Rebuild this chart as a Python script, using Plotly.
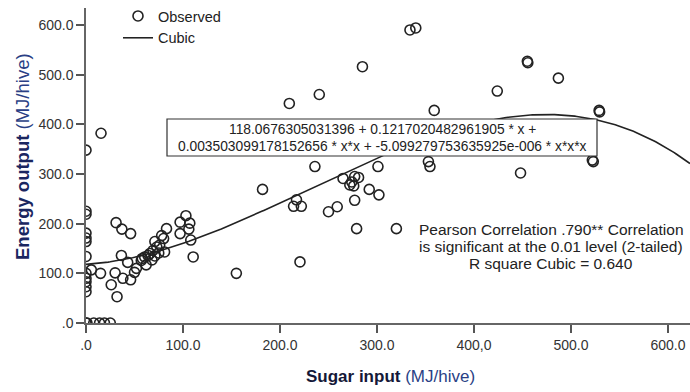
import numpy as np
import plotly.graph_objects as go

# Observed data (Sugar input, Energy output) in MJ/hive
sugar_input = [
    0, 0, 0, 0, 0, 0, 0, 0, 0, 0, 0, 0,
    0, 1, 8, 14, 19, 25,
    5.5, 15, 15.5, 26, 31, 37, 46, 30, 32, 38, 36.5, 43, 46, 50, 52, 57, 60.5, 62,
    64, 68, 71, 71, 73, 75, 76, 80, 81, 83, 58, 66, 69, 78,
    97, 97, 103, 107, 106, 108, 110.5, 155,
    182, 209.6, 240.5, 236, 217, 214, 222, 250, 259, 265, 277, 281, 274, 272, 276,
    277, 279, 292, 302, 301, 285, 220.6, 320, 334, 340, 353, 354.6, 359, 424, 448,
    455, 455.5, 487, 523, 522, 529, 529.5,
]
energy_output = [
    348, 225, 219, 181, 171, 164, 134, 100, 90, 83, 73, 63,
    0, 0, 0, 0, 0, 0,
    107, 100, 382, 77, 202, 189, 180, 101, 53, 90, 136, 122, 87, 102, 110, 126, 133, 117,
    136, 127, 135, 164, 153, 141, 157, 170, 143, 190, 130, 140, 146, 176,
    203, 180, 216, 201, 189, 167, 133, 100,
    269, 442, 460, 315, 248, 235, 235, 224, 234, 291, 295, 293, 284, 278, 276,
    247, 190, 269, 258, 315, 516, 123, 190, 590, 594, 325, 315, 428, 467, 302,
    527, 524, 493, 325, 328, 428, 425,
]

# Cubic fit coefficients as printed on the chart (b0, b1, b2, b3)
cubic_coef = [118.0676305031396, 0.1217020482961905, 0.003503099178152656, -5.099279753635925e-006]

x_ticks = [0, 100, 200, 300, 400, 500, 600]
x_ticktext = [".0", "100.0", "200.0", "300.0", "400,0", "500.0", "600.0"]
y_ticks = [0, 100, 200, 300, 400, 500, 600]
y_ticktext = [".0", "100.0", "200.0", "300.0", "400.0", "500.0", "600.0"]

X_MAX = 622.7
Y_MAX = 634.2

xc = np.linspace(0, X_MAX, 300)
yc = cubic_coef[0] + cubic_coef[1] * xc + cubic_coef[2] * xc**2 + cubic_coef[3] * xc**3

FONT = "Liberation Sans, Arial, sans-serif"
INK = "#222222"

fig = go.Figure()
fig.add_trace(go.Scatter(
    x=sugar_input, y=energy_output, mode="markers", name="Observed",
    marker=dict(symbol="circle-open", size=10, color=INK, line=dict(width=1.6, color=INK)),
))
fig.add_trace(go.Scatter(
    x=xc, y=yc, mode="lines", name="Cubic", line=dict(color=INK, width=1.6),
))

L, R, T, B = 86, 0, 8, 69
W, H = 690, 392
pw, ph = W - L - R, H - T - B

def px(xp):
    return (xp - L) / pw

def py(yp):
    return (H - B - yp) / ph

fig.add_shape(type="rect", xref="paper", yref="paper",
              x0=px(167), x1=px(597), y0=py(156), y1=py(119),
              fillcolor="white", line=dict(color="#333333", width=1.2), layer="above")

ann = []
eq_lines = [
    ("118.0676305031396 + 0.1217020482961905 * x +", 129),
    ("0.003503099178152656 * x*x + -5.099279753635925e-006 * x*x*x", 146.5),
]
for txt, yy in eq_lines:
    ann.append(dict(text=txt, x=px(382), y=py(yy), xref="paper", yref="paper",
                    xanchor="center", yanchor="middle", showarrow=False,
                    font=dict(family=FONT, size=13.8, color=INK)))
pear_lines = [
    ("Pearson Correlation .790** Correlation", 230),
    ("is significant at the 0.01 level (2-tailed)", 246.5),
    ("R square Cubic = 0.640", 263),
]
for txt, yy in pear_lines:
    ann.append(dict(text=txt, x=px(551), y=py(yy), xref="paper", yref="paper",
                    xanchor="center", yanchor="middle", showarrow=False,
                    font=dict(family=FONT, size=15.5, color=INK)))

ann.append(dict(
    text="<span style='color:#1a2660'><b>Energy output</b></span> <span style='color:#2a3f85'>(MJ/hive)</span>",
    x=px(22), y=py(157), xref="paper", yref="paper", xanchor="center", yanchor="middle",
    textangle=-90, showarrow=False, font=dict(family=FONT, size=18.5)))
ann.append(dict(
    text="<span style='color:#141838'><b>Sugar input</b></span> <span style='color:#2a3f85'>(MJ/hive)</span>",
    x=px(390), y=py(376), xref="paper", yref="paper", xanchor="center", yanchor="middle",
    showarrow=False, font=dict(family=FONT, size=17)))

fig.update_layout(
    width=W, height=H, margin=dict(l=L, r=R, t=T, b=B),
    paper_bgcolor="white", plot_bgcolor="white",
    font=dict(family=FONT, size=14, color="#333333"),
    annotations=ann,
    showlegend=True,
    legend=dict(x=px(118), y=py(0), xanchor="left", yanchor="top",
                bgcolor="rgba(0,0,0,0)", font=dict(family=FONT, size=14.5, color=INK),
                itemwidth=30, tracegroupgap=0),
)
fig.update_xaxes(range=[0, X_MAX], tickvals=x_ticks, ticktext=x_ticktext,
                 showgrid=False, zeroline=False, showline=True, linecolor="#666666", linewidth=1.5,
                 ticks="outside", ticklen=8, tickwidth=1.5, tickcolor="#555555",
                 tickfont=dict(family=FONT, size=14, color="#333333"))
fig.update_yaxes(range=[0, Y_MAX], tickvals=y_ticks, ticktext=y_ticktext,
                 showgrid=False, zeroline=False, showline=True, linecolor="#666666", linewidth=1.5,
                 ticks="outside", ticklen=8, tickwidth=1.5, tickcolor="#555555",
                 tickfont=dict(family=FONT, size=14, color="#333333"))

fig.write_html("out.html")
